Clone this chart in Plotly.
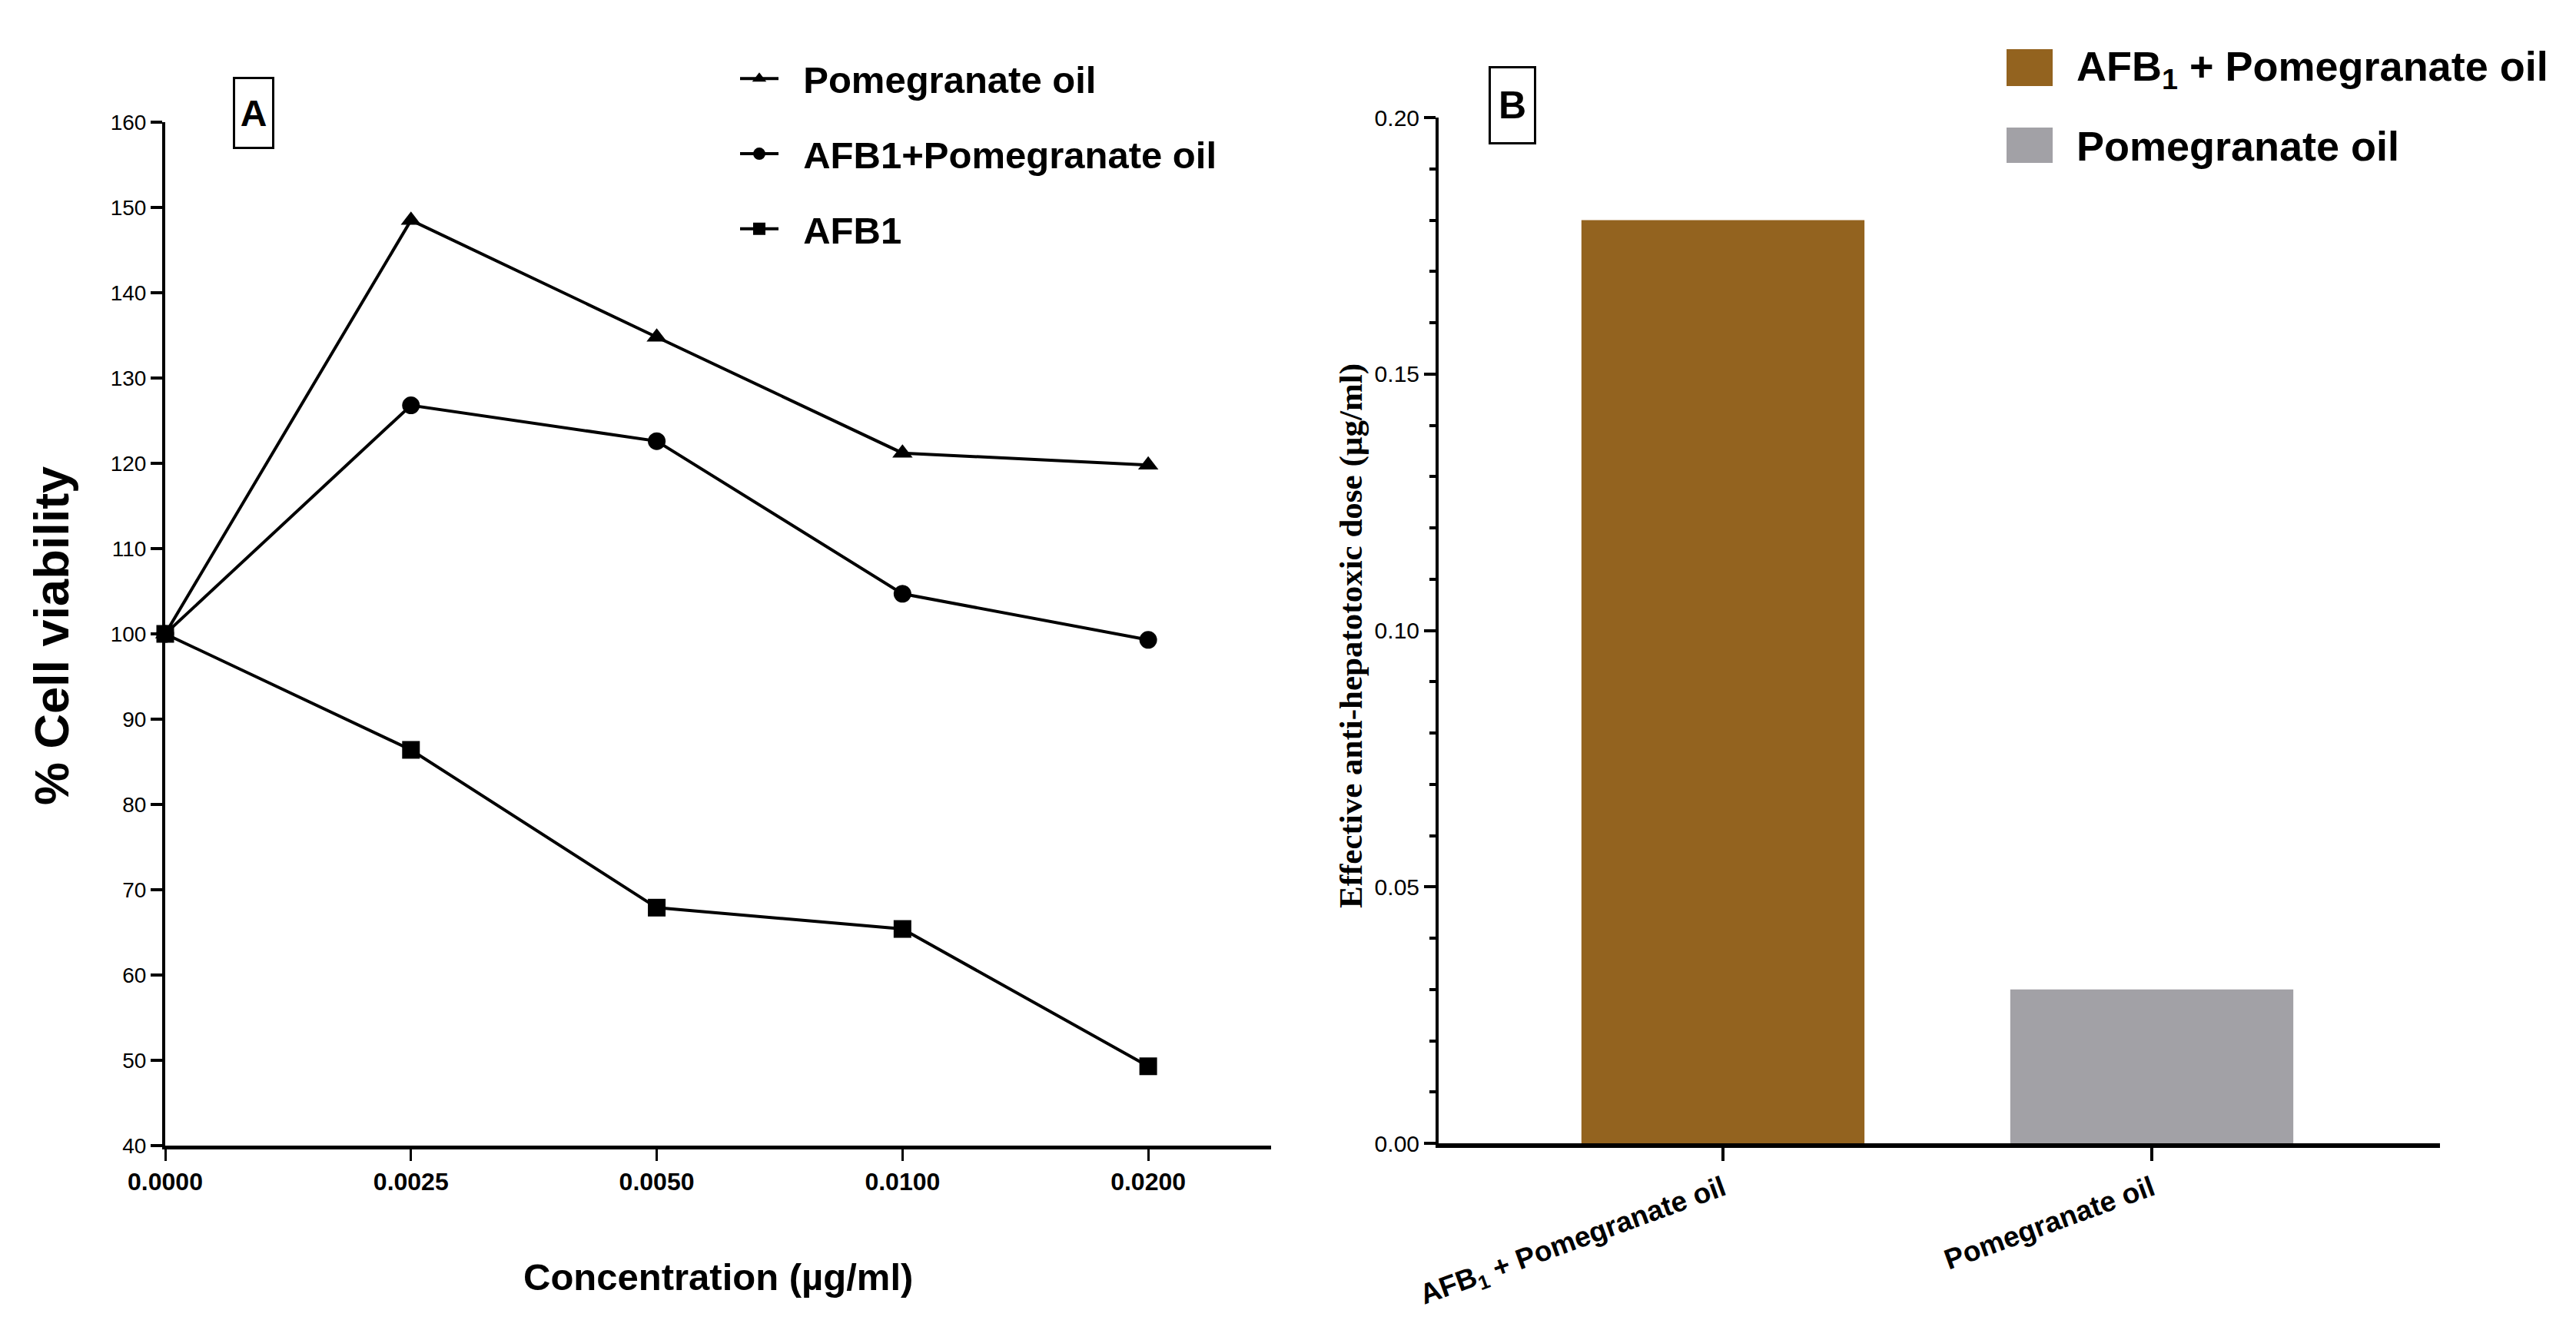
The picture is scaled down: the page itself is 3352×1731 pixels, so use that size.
import plotly.graph_objects as go

# Panel A: cell viability (%) at each concentration (ug/ml)
concentrations = ["0.0000", "0.0025", "0.0050", "0.0100", "0.0200"]
pomegranate_oil = [100, 148.5, 134.8, 121.2, 119.8]
afb1_pomegranate = [100, 126.8, 122.6, 104.7, 99.3]
afb1 = [100, 86.4, 67.9, 65.4, 49.3]

# Panel B: effective anti-hepatotoxic dose (ug/ml)
treatments = ["AFB<sub>1</sub> + Pomegranate oil", "Pomegranate oil"]
effective_dose = [0.18, 0.03]

W, H = 3352, 1731
OFF = 8  # page body margin
BROWN = "#93631f"
GREY = "#a2a1a6"
SANS = "Liberation Sans, Arial, sans-serif"
SERIF = "Liberation Serif, Times New Roman, serif"
GAP = "\u00a0\u00a0"


def px_x(v):
    return (v - OFF) / W


def px_y(v):
    return 1 - (v - OFF) / H


fig = go.Figure()

series = [
    ("Pomegranate oil", pomegranate_oil, "triangle-up"),
    ("AFB1+Pomegranate oil", afb1_pomegranate, "circle"),
    ("AFB1", afb1, "square"),
]
for name, vals, sym in series:
    fig.add_trace(go.Scatter(
        x=concentrations, y=vals, name=GAP + name, mode="lines+markers",
        line=dict(color="black", width=4),
        marker=dict(symbol=sym, size=23, color="black"),
        legendgroup=name, cliponaxis=False,
        xaxis="x", yaxis="y",
    ))

fig.add_trace(go.Bar(
    x=treatments, y=effective_dose, marker=dict(color=[BROWN, GREY], line=dict(width=0)),
    width=0.66, showlegend=False, xaxis="x2", yaxis="y2",
))

axis_common = dict(showline=True, linecolor="black", showgrid=False, zeroline=False,
                   ticks="outside", tickcolor="black", automargin=False)

fig.update_layout(
    width=W, height=H,
    margin=dict(l=0, r=0, t=0, b=0, autoexpand=False),
    paper_bgcolor="white", plot_bgcolor="white",
    xaxis=dict(axis_common, domain=[px_x(215), px_x(1654)], anchor="y",
               type="category", range=[0, 4.5], linewidth=5, ticklen=15, tickwidth=3,
               tickfont=dict(family=SANS, size=32, color="black", weight="bold")),
    yaxis=dict(axis_common, domain=[px_y(1491), px_y(159)], anchor="x",
               range=[40, 160], dtick=10, linewidth=4, ticklen=15, tickwidth=4,
               tickfont=dict(family=SANS, size=28, color="black")),
    xaxis2=dict(axis_common, domain=[px_x(1872), px_x(3175)], anchor="y2",
                type="category", range=[-0.663, 1.672], linewidth=6, ticklen=17, tickwidth=4,
                tickangle=-20,
                tickfont=dict(family=SANS, size=37, color="black", weight="bold")),
    yaxis2=dict(axis_common, domain=[px_y(1488), px_y(153)], anchor="x2",
                range=[0, 0.2], dtick=0.05, tickformat=".2f", linewidth=4, ticklen=15, tickwidth=4,
                minor=dict(dtick=0.01, ticks="outside", ticklen=8, tickwidth=4, tickcolor="black"),
                tickfont=dict(family=SANS, size=30, color="black")),
    legend=dict(x=px_x(958), y=px_y(64), xanchor="left", yanchor="top",
                bgcolor="rgba(0,0,0,0)", traceorder="grouped", tracegroupgap=31,
                itemwidth=50,
                font=dict(family=SANS, size=49, color="black", weight="bold")),
    showlegend=True,
)

annotations = [
    dict(text="% Cell viability", x=px_x(67), y=px_y(828), textangle=-90,
         font=dict(family=SANS, size=63, color="black", weight="bold")),
    dict(text="Concentration (µg/ml)", x=px_x(935), y=px_y(1662),
         font=dict(family=SANS, size=49, color="black", weight="bold")),
    dict(text="Effective anti-hepatotoxic dose (µg/ml)", x=px_x(1758), y=px_y(828), textangle=-90,
         font=dict(family=SERIF, size=43, color="black", weight="bold")),
    dict(text="A", x=px_x(329.5), y=px_y(147.5), width=48, height=88, borderpad=0,
         bordercolor="black", borderwidth=3, bgcolor="white",
         font=dict(family=SANS, size=48, color="black", weight="bold")),
    dict(text="B", x=px_x(1967.5), y=px_y(137.5), width=56, height=96, borderpad=0,
         bordercolor="black", borderwidth=3, bgcolor="white",
         font=dict(family=SANS, size=50, color="black", weight="bold")),
    dict(text="AFB<sub>1</sub> + Pomegranate oil", x=px_x(2700), y=px_y(90), xanchor="left",
         font=dict(family=SANS, size=54, color="black", weight="bold")),
    dict(text="Pomegranate oil", x=px_x(2700), y=px_y(190), xanchor="left",
         font=dict(family=SANS, size=54, color="black", weight="bold")),
]
for a in annotations:
    a.setdefault("xref", "paper")
    a.setdefault("yref", "paper")
    a.setdefault("xanchor", "center")
    a.setdefault("yanchor", "middle")
    a.setdefault("showarrow", False)
fig.update_layout(annotations=annotations)

# legend swatches for panel B
fig.update_layout(shapes=[
    dict(type="rect", xref="paper", yref="paper", x0=px_x(2611), x1=px_x(2671),
         y0=px_y(112), y1=px_y(64), fillcolor=BROWN, line=dict(width=0)),
    dict(type="rect", xref="paper", yref="paper", x0=px_x(2611), x1=px_x(2671),
         y0=px_y(212), y1=px_y(166), fillcolor=GREY, line=dict(width=0)),
])

fig.write_html("out.html")
